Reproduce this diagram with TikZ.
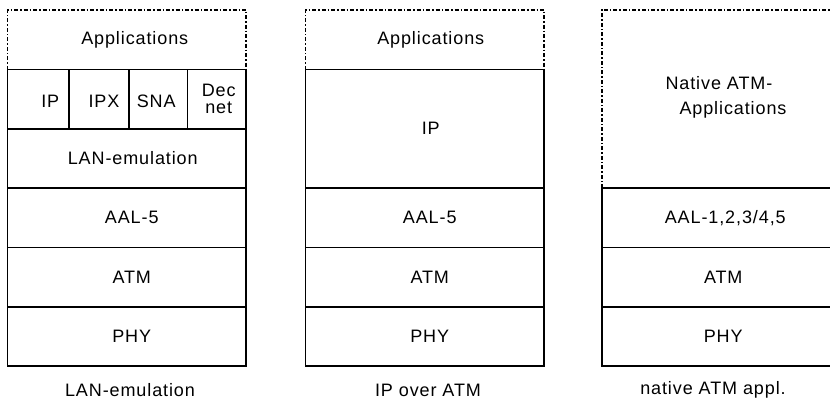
\documentclass[tikz,border=0pt]{standalone}
\usepackage{fontspec}
\setmainfont{Liberation Sans}[LetterSpace=5]
\begin{document}
\begin{tikzpicture}[x=1pt,y=-1pt,
  stroke/.style={line width=1.6pt},
  layer/.style={draw, stroke, rectangle, inner sep=0pt,
    minimum width=238.5pt, minimum height=59.3pt},
  cell/.style={layer, minimum width=#1},
  appbox/.style={rectangle, inner sep=0pt, minimum width=238.5pt, minimum height=#1},
  dotline/.style={line width=1.5pt, dash pattern=on 4pt off 2pt on 1.5pt off 2pt},
  txt/.style={font=\fontsize{18}{25}\selectfont, inner sep=0pt, align=center},
]
\useasboundingbox (0,0) rectangle (830,402);
\clip (0,0) rectangle (830,402);

% ---------- LAN emulation stack ----------
\node[appbox=59.3pt] (L-app) at (126.75,39.65) {};
\draw[dotline] (L-app.south west) |- (L-app.north east) -- (L-app.south east);
\node[txt] (L-app-t) at ([xshift=8pt]L-app.center) {Applications};

\node[cell=61.5pt] (L-ip)  at (38.25,99) {};
\node[cell=60pt]   (L-ipx) at (99,99) {};
\node[cell=58.5pt] (L-sna) at (158.25,99) {};
\node[cell=58.5pt] (L-dec) at (216.75,99) {};
\node[txt] (L-ip-t)  at ([xshift=12pt,yshift=-2pt]L-ip.center) {IP};
\node[txt] (L-ipx-t) at ([xshift=5pt,yshift=-2pt]L-ipx.center) {IPX};
\node[txt] (L-sna-t) at ([xshift=-2pt,yshift=-2pt]L-sna.center) {SNA};
\node[txt, font=\fontsize{18}{17}\selectfont] (L-dec-t) at ([xshift=2pt]L-dec.center) {Dec\\net};

\node[layer] (L-lane) at (126.75,158.35) {};
\node[txt] (L-lane-t) at ([xshift=6pt]L-lane.center) {LAN-emulation};
\node[layer] (L-aal) at (126.75,217.65) {};
\node[txt] (L-aal-t) at ([xshift=5pt]L-aal.center) {AAL-5};
\node[layer] (L-atm) at (126.75,277) {};
\node[txt] (L-atm-t) at ([xshift=5pt]L-atm.center) {ATM};
\node[layer] (L-phy) at (126.75,336.35) {};
\node[txt] (L-phy-t) at ([xshift=5pt]L-phy.center) {PHY};
\node[txt] (L-cap) at (130,390) {LAN-emulation};

% ---------- IP over ATM stack ----------
\node[appbox=59.3pt] (M-app) at (424.75,39.65) {};
\draw[dotline] (M-app.south west) |- (M-app.north east) -- (M-app.south east);
\node[txt] (M-app-t) at ([xshift=6pt]M-app.center) {Applications};

\node[layer, minimum height=118.7pt] (M-ip) at (424.75,128.65) {};
\node[txt] (M-ip-t) at ([xshift=6pt]M-ip.center) {IP};
\node[layer] (M-aal) at (424.75,217.65) {};
\node[txt] (M-aal-t) at ([xshift=5pt]M-aal.center) {AAL-5};
\node[layer] (M-atm) at (424.75,277) {};
\node[txt] (M-atm-t) at ([xshift=5pt]M-atm.center) {ATM};
\node[layer] (M-phy) at (424.75,336.35) {};
\node[txt] (M-phy-t) at ([xshift=5pt]M-phy.center) {PHY};
\node[txt] (M-cap) at (428,390) {IP over ATM};

% ---------- native ATM stack ----------
\node[appbox=178pt] (R-app) at (721.25,99) {};
\draw[dotline] (R-app.south west) |- (R-app.north east) -- (R-app.south east);
\node[txt, align=left] (R-app-t) at (726,97.5) {Native ATM-\\\hspace*{14pt}Applications};

\node[layer] (R-aal) at (721.25,217.65) {};
\node[txt] (R-aal-t) at ([xshift=4pt]R-aal.center) {AAL-1,2,3/4,5};
\node[layer] (R-atm) at (721.25,277) {};
\node[txt] (R-atm-t) at ([xshift=2pt]R-atm.center) {ATM};
\node[layer] (R-phy) at (721.25,336.35) {};
\node[txt] (R-phy-t) at ([xshift=2pt]R-phy.center) {PHY};
\node[txt] (R-cap) at (713,390) {native ATM appl.};
\end{tikzpicture}
\end{document}
